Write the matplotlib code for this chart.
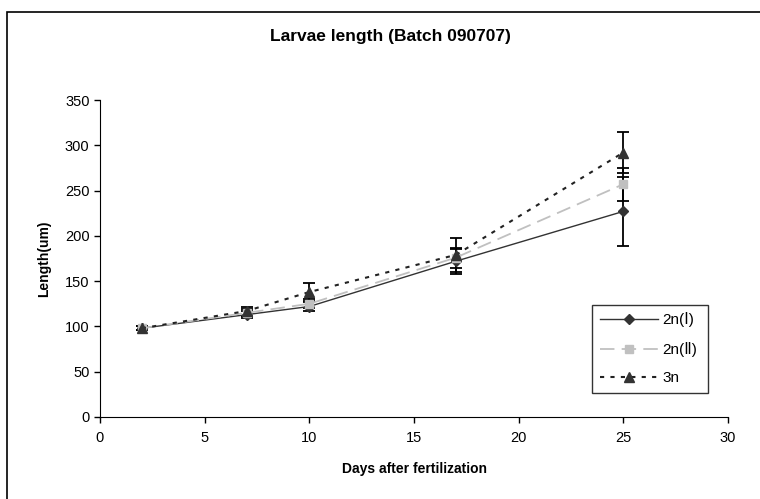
import matplotlib
matplotlib.use("Agg")
import matplotlib.pyplot as plt
from matplotlib.patches import Rectangle

plt.rcParams['font.family'] = ['Liberation Sans', 'DejaVu Sans']

days = [2, 7, 10, 17, 25]
s1_name = "2n(\u2160)"
s2_name = "2n(\u2161)"
s3_name = "3n"
s1 = [98, 113, 122, 172, 227]
s1_err = [2, 4, 5, 14, 38]
s2 = [98, 115, 125, 176, 257]
s2_err = [2, 4, 5, 11, 18]
s3 = [98, 117, 138, 179, 292]
s3_err = [2, 5, 10, 19, 23]

fig = plt.figure(figsize=(7.6, 4.99), dpi=100)
ax = fig.add_axes([100/760, 1-417/499, (728-100)/760, (417-100)/499])

fig.patches.append(Rectangle((7/760, -0.05), 1.2, 1.05 - 12/499,
                             transform=fig.transFigure, fill=False,
                             edgecolor='black', linewidth=1.2))

ax.errorbar(days, s1, yerr=s1_err, color='#333333', linestyle='-', linewidth=1.0,
            marker='D', markersize=5.5, markerfacecolor='#333333', markeredgecolor='#333333',
            ecolor='black', elinewidth=1.3, capsize=4.5, capthick=1.3, label=s1_name, zorder=3)
ax.errorbar(days, s2, yerr=s2_err, color='#c0c0c0', linestyle=(0, (8, 4)), linewidth=1.3,
            marker='s', markersize=6, markerfacecolor='#c0c0c0', markeredgecolor='#c0c0c0',
            ecolor='black', elinewidth=1.3, capsize=4.5, capthick=1.3, label=s2_name, zorder=3)
ax.errorbar(days, s3, yerr=s3_err, color='#222222', linestyle=(0, (2, 3)), linewidth=1.5,
            marker='^', markersize=7, markerfacecolor='#333333', markeredgecolor='#333333',
            ecolor='black', elinewidth=1.3, capsize=4.5, capthick=1.3, label=s3_name, zorder=3)

ax.set_xlim(0, 30)
ax.set_ylim(0, 350)
ax.set_xticks(range(0, 31, 5))
ax.set_yticks(range(0, 351, 50))
ax.spines['top'].set_visible(False)
ax.spines['right'].set_visible(False)
ax.tick_params(direction='out', length=4, labelsize=10.5, width=1)
ax.tick_params(axis='x', pad=6)
ax.set_xlabel("Days after fertilization", fontsize=10, fontweight='bold', labelpad=12)
ax.set_ylabel("Length(um)", fontsize=10, fontweight='bold', labelpad=10)

fig.text(390/760, 1-37/499, "Larvae length (Batch 090707)", ha='center', va='center',
         fontsize=12.5, fontweight='bold')

handles, labels = ax.get_legend_handles_labels()
handles = [h[0] for h in handles]
leg = ax.legend(handles, labels, loc='lower left',
                bbox_to_anchor=(592/760, 1-393/499, (708-592)/760, (393-305)/499),
                bbox_transform=fig.transFigure, mode='expand', frameon=True, fancybox=False,
                edgecolor='black', fontsize=11, handlelength=3.8, handletextpad=0.3,
                borderpad=0.5, labelspacing=0.95, borderaxespad=0)
leg.get_frame().set_linewidth(1.0)

fig.savefig("out.png", dpi=100)
